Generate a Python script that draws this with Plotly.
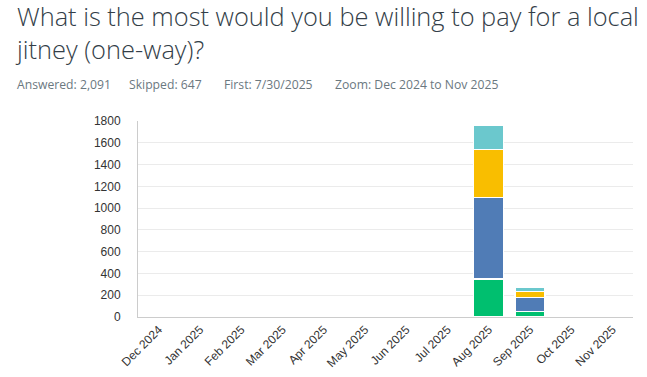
import plotly.graph_objects as go

months = ["Dec 2024", "Jan 2025", "Feb 2025", "Mar 2025", "Apr 2025", "May 2025",
          "Jun 2025", "Jul 2025", "Aug 2025", "Sep 2025", "Oct 2025", "Nov 2025"]
series_green = [0, 0, 0, 0, 0, 0, 0, 0, 348, 50, 0, 0]
series_blue = [0, 0, 0, 0, 0, 0, 0, 0, 748, 130, 0, 0]
series_yellow = [0, 0, 0, 0, 0, 0, 0, 0, 443, 55, 0, 0]
series_teal = [0, 0, 0, 0, 0, 0, 0, 0, 224, 37, 0, 0]
y_ticks = [0, 200, 400, 600, 800, 1000, 1200, 1400, 1600, 1800]

colors = ["#00bf6f", "#507cb6", "#f9be00", "#6bc8cd"]

fig = go.Figure()
for vals, c in zip([series_green, series_blue, series_yellow, series_teal], colors):
    fig.add_trace(go.Bar(x=months, y=vals, marker=dict(color=c, line=dict(color="white", width=1.5)),
                         showlegend=False))

L, T, PW, PH = 138, 121, 495, 196
fig.update_layout(
    barmode="stack",
    bargap=0.27,
    width=647, height=377,
    margin=dict(l=L, r=647 - L - PW, t=T, b=377 - T - PH),
    paper_bgcolor="white", plot_bgcolor="white",
    font=dict(family="Arial, Liberation Sans", color="#333333", size=12),
    xaxis=dict(tickangle=-45, tickfont=dict(size=12, color="#333"), showline=True,
               linecolor="#cccccc", linewidth=1, showgrid=False, ticks="", automargin=False),
    yaxis=dict(range=[0, 1800], tickvals=y_ticks, showgrid=True, gridcolor="#ebebeb",
               showline=True, linecolor="#cccccc", linewidth=1, zeroline=False,
               tickfont=dict(size=12, color="#333"), ticklabelstandoff=14, automargin=False),
)

def px_x(p):
    return (p - L) / PW

def px_y(p):
    return 1 + (T - p) / PH

title_font = dict(family="Open Sans", size=25.4, color="#333e48", weight=300)
fig.add_annotation(text="What is the most would you be willing to pay for a local<br>jitney (one-way)?",
                   xref="paper", yref="paper", align="left",
                   x=px_x(13), y=px_y(32), xanchor="left", yanchor="middle", showarrow=False,
                   font=title_font)

sub_font = dict(family="Open Sans", size=12.2, color="#6b787f")
for txt, px in [("Answered: 2,091", 15), ("Skipped: 647", 127), ("First: 7/30/2025", 222),
                ("Zoom: Dec 2024 to Nov 2025", 333)]:
    fig.add_annotation(text=txt, xref="paper", yref="paper", x=px_x(px), y=px_y(84),
                       xanchor="left", yanchor="middle", showarrow=False, font=sub_font)

fig.write_html("out.html", config={"displayModeBar": False},
               post_script="document.body.style.margin='0';")
